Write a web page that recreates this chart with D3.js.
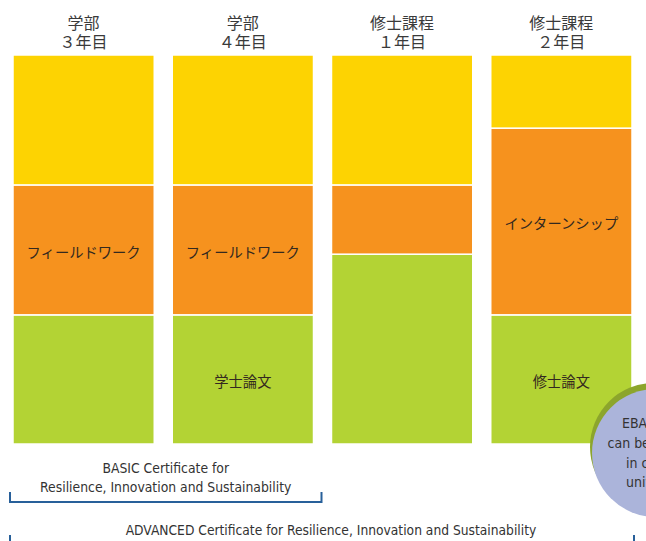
<!DOCTYPE html>
<html lang="ja">
  <head>
    <meta charset="UTF-8" />
    <title>Certificate programme</title>
    <style>
      body {
        margin: 0;
        background: #fff;
      }
      svg {
        display: block;
      }
      .jp {
        font-family: "Noto Sans CJK JP", sans-serif;
      }
      .en {
        font-family: "Liberation Sans Narrow", "DejaVu Sans Condensed", sans-serif;
        fill: #333;
      }
    </style>
  </head>
  <body>
    <div id="chart"></div>

    <script src="https://d3js.org/d3.v7.min.js"></script>
    <script>
      // column headers
      const programs = ["学部", "学部", "修士課程", "修士課程"];
      const yearLabels = ["３年目", "４年目", "１年目", "２年目"];

      // share of each year (percent), bottom to top
      const greenValues = [33.2, 33.2, 48.8, 33.2];
      const orangeValues = [33.4, 33.4, 17.8, 48.0];
      const yellowValues = [33.4, 33.4, 33.4, 18.8];

      const greenLabels = ["", "学士論文", "", "修士論文"];
      const orangeLabels = ["フィールドワーク", "フィールドワーク", "", "インターンシップ"];

      const width = 646;
      const height = 541;
      const colors = { green: "#b3d334", orange: "#f6921e", yellow: "#fdd302" };

      const svg = d3
        .select("#chart")
        .append("svg")
        .attr("width", width)
        .attr("height", height);

      const x = d3
        .scaleBand()
        .domain(d3.range(programs.length))
        .range([13, 632])
        .paddingInner(0.113)
        .paddingOuter(0);

      const y = d3.scaleLinear().domain([0, 100]).range([444, 55]);

      // build stacked rows
      const rows = programs.map((p, i) => ({
        i,
        green: greenValues[i],
        orange: orangeValues[i],
        yellow: yellowValues[i],
      }));
      const keys = ["green", "orange", "yellow"];
      const series = d3.stack().keys(keys)(rows);

      const layers = svg
        .selectAll("g.layer")
        .data(series)
        .join("g")
        .attr("class", "layer")
        .attr("fill", (d) => colors[d.key]);

      layers
        .selectAll("rect")
        .data((d) => d)
        .join("rect")
        .attr("x", (d) => x(d.data.i))
        .attr("width", x.bandwidth())
        .attr("y", (d) => y(d[1]))
        .attr("height", (d) => y(d[0]) - y(d[1]))
        .attr("stroke", "#fff")
        .attr("stroke-width", 1.5);

      // labels inside segments
      const labelFor = { green: greenLabels, orange: orangeLabels };
      series
        .filter((s) => labelFor[s.key])
        .forEach((s) => {
          svg
            .append("g")
            .selectAll("text")
            .data(s.filter((d) => labelFor[s.key][d.data.i]))
            .join("text")
            .attr("class", "jp")
            .attr("x", (d) => x(d.data.i) + x.bandwidth() / 2)
            .attr("y", (d) => (y(d[0]) + y(d[1])) / 2 + 3)
            .attr("dy", "0.35em")
            .attr("text-anchor", "middle")
            .attr("font-size", 14.3)
            .attr("fill", "#33291f")
            .text((d) => labelFor[s.key][d.data.i]);
        });

      // column headers
      const head = svg
        .append("g")
        .selectAll("text")
        .data(programs)
        .join("text")
        .attr("class", "jp")
        .attr("text-anchor", "middle")
        .attr("font-size", 16)
        .attr("fill", "#3a3a3a");
      head
        .append("tspan")
        .attr("x", (d, i) => x(i) + x.bandwidth() / 2)
        .attr("y", 29)
        .text((d) => d);
      head
        .append("tspan")
        .attr("x", (d, i) => x(i) + x.bandwidth() / 2)
        .attr("y", 47.5)
        .text((d, i) => yearLabels[i]);

      // EBA bubble with its shadow
      const bubble = { cx: 656, cy: 453, r: 64 };
      svg
        .append("circle")
        .attr("cx", bubble.cx - 2)
        .attr("cy", bubble.cy - 6)
        .attr("r", bubble.r)
        .attr("fill", "#8ca52c");
      svg
        .append("circle")
        .attr("cx", bubble.cx)
        .attr("cy", bubble.cy)
        .attr("r", bubble.r)
        .attr("fill", "#abb4da");
      const bubbleLines = [
        ["EBA courses", 622, 428],
        ["can be taken", 607.5, 448],
        ["in cooperating", 626, 468],
        ["universities", 626, 487],
      ];
      svg
        .append("g")
        .selectAll("text")
        .data(bubbleLines)
        .join("text")
        .attr("class", "en")
        .attr("font-size", 14)
        .attr("x", (d) => d[1])
        .attr("y", (d) => d[2])
        .text((d) => d[0]);

      // certificate brackets
      const bracketColor = "#28609a";
      function bracket(x0, x1, yLine, tick) {
        svg
          .append("path")
          .attr("d", `M${x0},${yLine - tick}V${yLine}H${x1}V${yLine - tick}`)
          .attr("fill", "none")
          .attr("stroke", bracketColor)
          .attr("stroke-width", 2);
      }
      bracket(x(0) - 3, x(1) + x.bandwidth() + 8, 502, 10);
      bracket(x(0) - 3, x(3) + x.bandwidth() + 2, 548, 13);

      const basicMid = (x(0) - 3 + x(1) + x.bandwidth() + 8) / 2;
      svg
        .append("text")
        .attr("class", "en")
        .attr("font-size", 13.8)
        .attr("text-anchor", "middle")
        .attr("x", basicMid)
        .attr("y", 473)
        .text("BASIC Certificate for");
      svg
        .append("text")
        .attr("class", "en")
        .attr("font-size", 13.8)
        .attr("text-anchor", "middle")
        .attr("x", basicMid)
        .attr("y", 492)
        .text("Resilience, Innovation and Sustainability");
      svg
        .append("text")
        .attr("class", "en")
        .attr("font-size", 13.7)
        .attr("text-anchor", "middle")
        .attr("x", 331)
        .attr("y", 535)
        .text("ADVANCED Certificate for Resilience, Innovation and Sustainability");
    </script>
  </body>
</html>
